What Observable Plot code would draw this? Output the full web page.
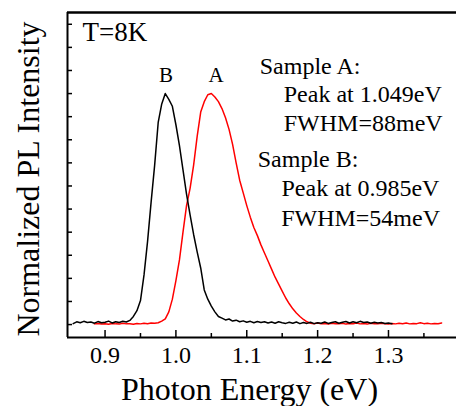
<!DOCTYPE html>
<html>
<head>
<meta charset="utf-8">
<script src="https://cdn.jsdelivr.net/npm/d3@7"></script>
<script src="https://cdn.jsdelivr.net/npm/@observablehq/plot@0.6"></script>
<style>
  html, body { margin: 0; padding: 0; background: #fff; }
  #chart svg { display: block; }
</style>
</head>
<body>
<div id="chart"></div>
<script>
// ---- Data ----
const energyB = [0.855,0.860,0.865,0.870,0.875,0.880,0.885,0.890,0.895,0.900,0.905,0.910,0.915,0.920,0.925,0.930,0.935,0.940,0.945,0.950,0.955,0.960,0.965,0.970,0.975,0.980,0.985,0.990,0.995,1.000,1.005,1.010,1.015,1.020,1.025,1.030,1.035,1.040,1.045,1.050,1.055,1.060,1.065,1.070,1.075,1.080,1.085,1.090,1.095,1.100,1.105,1.110,1.115,1.120,1.125,1.130,1.135,1.140,1.145,1.150,1.155,1.160,1.165,1.170,1.175,1.180,1.185,1.190,1.195,1.200,1.205,1.210,1.215,1.220,1.225,1.230,1.235,1.240,1.245,1.250,1.255,1.260,1.265,1.270,1.275,1.280,1.285,1.290,1.295,1.300,1.305];
const intensityB = [0.004,0.012,0.008,0.014,0.009,0.011,0.006,0.013,0.008,0.010,0.015,0.007,0.012,0.009,0.014,0.011,0.018,0.035,0.060,0.104,0.215,0.360,0.530,0.690,0.875,0.955,1.000,0.975,0.945,0.865,0.775,0.670,0.565,0.475,0.390,0.315,0.245,0.150,0.110,0.080,0.055,0.035,0.028,0.020,0.024,0.015,0.019,0.012,0.016,0.010,0.014,0.008,0.013,0.009,0.012,0.007,0.011,0.006,0.012,0.008,0.005,0.010,0.006,0.011,0.004,0.009,0.005,0.010,0.004,0.008,0.006,0.011,0.005,0.009,0.012,0.006,0.010,0.013,0.007,0.012,0.008,0.014,0.009,0.011,0.006,0.010,0.007,0.009,0.005,0.007,0.004];

const energyA = [0.885,0.890,0.895,0.900,0.905,0.910,0.915,0.920,0.925,0.930,0.935,0.940,0.945,0.950,0.955,0.960,0.965,0.970,0.975,0.980,0.985,0.990,0.995,1.000,1.005,1.010,1.015,1.020,1.025,1.030,1.035,1.040,1.045,1.050,1.055,1.060,1.065,1.070,1.075,1.080,1.085,1.090,1.095,1.100,1.105,1.110,1.115,1.120,1.125,1.130,1.135,1.140,1.145,1.150,1.155,1.160,1.165,1.170,1.175,1.180,1.185,1.190,1.195,1.200,1.205,1.210,1.215,1.220,1.225,1.230,1.235,1.240,1.245,1.250,1.255,1.260,1.265,1.270,1.275,1.280,1.285,1.290,1.295,1.300,1.305,1.310,1.315,1.320,1.325,1.330,1.335,1.340,1.345,1.350,1.355,1.360,1.365,1.370,1.375];
const intensityA = [0.003,0.005,0.002,0.004,0.001,0.005,0.003,0.002,0.006,0.003,0.004,0.001,0.005,0.003,0.006,0.004,0.007,0.006,0.008,0.015,0.025,0.055,0.110,0.190,0.280,0.400,0.515,0.590,0.690,0.815,0.920,0.965,0.995,1.000,0.985,0.965,0.935,0.895,0.845,0.780,0.700,0.625,0.570,0.515,0.465,0.420,0.385,0.345,0.310,0.275,0.240,0.205,0.175,0.145,0.115,0.090,0.068,0.050,0.035,0.022,0.012,0.006,0.004,0.007,0.003,0.005,0.002,0.006,0.004,0.003,0.006,0.002,0.005,0.004,0.007,0.003,0.005,0.002,0.006,0.004,0.003,0.006,0.004,0.002,0.005,0.003,0.006,0.004,0.007,0.003,0.005,0.004,0.008,0.004,0.006,0.003,0.005,0.004,0.007];

const xTickValues = [0.9, 1.0, 1.1, 1.2, 1.3];
const xMinorTickValues = [0.95, 1.05, 1.15, 1.25, 1.35];
const yTickValues = [0, 0.1, 0.2, 0.3, 0.4, 0.5, 0.6, 0.7, 0.8, 0.9, 1.0, 1.1, 1.2, 1.3];

const peakNames = ["B", "A"];
const noteLines = ["Sample A:", "Peak at 1.049eV", "FWHM=88meV", "Sample B:", "Peak at 0.985eV", "FWHM=54meV"];
const tempLabel = "T=8K";
const xTitle = "Photon Energy (eV)";
const yTitle = "Normalized PL Intensity";

// ---- Annotation anchors (data units) ----
const peakNameE = [0.986, 1.0566];
const peakNameI = [1.048, 1.048];
const noteE = [1.1183, 1.1522, 1.1522, 1.1155, 1.149, 1.1485];
const noteI = [1.0835, 0.9623, 0.8398, 0.681, 0.5563, 0.4286];

// ---- Build tables ----
const seriesB = energyB.map((e, i) => ({e, v: intensityB[i]}));
const seriesA = energyA.map((e, i) => ({e, v: intensityA[i]}));
const peaks = peakNames.map((t, i) => ({t, e: peakNameE[i], v: peakNameI[i]}));
const notes = noteLines.map((t, i) => ({t, e: noteE[i], v: noteI[i]}));

const xDomain = [0.847, 1.396];
const yDomain = [-0.056, 1.351];
const serif = "'Liberation Serif', 'Times New Roman', Times, serif";

const chart = Plot.plot({
  width: 456,
  height: 406,
  marginLeft: 67,
  marginRight: 0,
  marginTop: 12,
  marginBottom: 69,
  style: {fontFamily: serif, background: "white", color: "black", overflow: "visible"},
  x: {domain: xDomain},
  y: {domain: yDomain},
  marks: [
    Plot.axisX(xTickValues, {tickSize: 0, tickPadding: 8, fontSize: 24, tickFormat: d3.format(".1f"), label: null, fill: "black"}),
    Plot.axisX(xTickValues, {tickSize: -7, tickFormat: () => "", label: null, strokeWidth: 1.5}),
    Plot.axisX(xMinorTickValues, {tickSize: -4, tickFormat: () => "", label: null, strokeWidth: 1.5}),
    Plot.axisY(yTickValues, {tickSize: -5, tickFormat: () => "", label: null, strokeWidth: 1.5}),
    Plot.ruleX([xDomain[0]], {stroke: "black", strokeWidth: 2}),
    Plot.ruleY([yDomain[0]], {stroke: "black", strokeWidth: 2}),
    Plot.ruleY([yDomain[1]], {stroke: "black", strokeWidth: 2.5}),
    Plot.line(seriesA, {x: "e", y: "v", stroke: "#ff0000", strokeWidth: 1.5}),
    Plot.line(seriesB, {x: "e", y: "v", stroke: "black", strokeWidth: 1.5}),
    Plot.text(peaks, {x: "e", y: "v", text: "t", fontSize: 21, textAnchor: "middle", lineAnchor: "bottom", fill: "black"}),
    Plot.text(notes, {x: "e", y: "v", text: "t", fontSize: 24, textAnchor: "start", lineAnchor: "bottom", fill: "black"}),
    Plot.text([tempLabel], {text: d => d, frameAnchor: "top-left", dx: 15, dy: 28.7, fontSize: 27, textAnchor: "start", lineAnchor: "bottom", fill: "black"}),
    Plot.text([xTitle], {text: d => d, frameAnchor: "bottom", dx: -12.5, dy: 62, fontSize: 32, textAnchor: "middle", lineAnchor: "bottom", fill: "black"}),
    Plot.text([yTitle], {text: d => d, frameAnchor: "left", rotate: -90, dx: -29, dy: 4, fontSize: 32, textAnchor: "middle", lineAnchor: "bottom", fill: "black"})
  ]
});
document.getElementById("chart").appendChild(chart);
</script>
</body>
</html>
